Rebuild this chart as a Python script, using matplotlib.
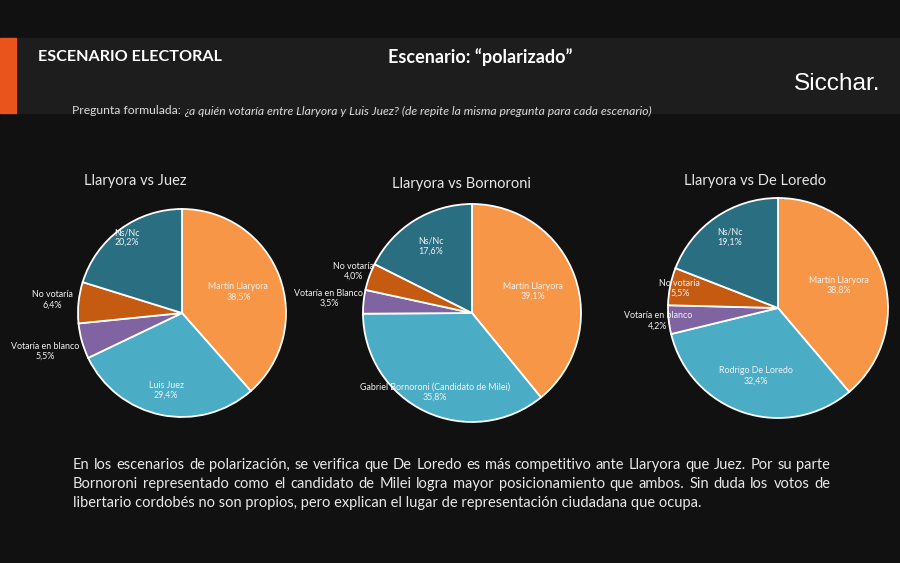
import matplotlib

matplotlib.use("Agg")
import matplotlib.pyplot as plt
import numpy as np
from matplotlib.patches import Rectangle

# --- data -------------------------------------------------------------
titles = ["Llaryora vs Juez", "Llaryora vs Bornoroni", "Llaryora vs De Loredo"]
labels_juez = ["Martín Llaryora", "Luis Juez", "Votaría en blanco", "No votaría", "Ns/Nc"]
values_juez = [38.5, 29.4, 5.5, 6.4, 20.2]
labels_bornoroni = ["Martín Llaryora", "Gabriel Bornoroni (Candidato de Milei)",
                    "Votaría en Blanco", "No votaría", "Ns/Nc"]
values_bornoroni = [39.1, 35.8, 3.5, 4.0, 17.6]
labels_deloredo = ["Martín Llaryora", "Rodrigo De Loredo", "Votaría en blanco", "No votaría", "Ns/Nc"]
values_deloredo = [38.8, 32.4, 4.2, 5.5, 19.1]

question = "¿a quién votaría entre Llaryora y Luis Juez? (de repite la misma pregunta para cada escenario)"
body_lines = [
    "En los escenarios de polarización, se verifica que De Loredo es más competitivo ante Llaryora que Juez. Por su parte",
    "Bornoroni representado como el candidato de Milei logra mayor posicionamiento que ambos. Sin duda los votos de",
    "libertario cordobés no son propios, pero explican el lugar de representación ciudadana que ocupa.",
]

# --- style ------------------------------------------------------------
W, H = 900, 563
BG = "#111111"
BAND = "#1d1d1d"
ACCENT = "#e8541c"
colors = ["#f79646", "#4bacc6", "#8064a2", "#c55a11", "#2a6e82"]
FONT = "Lato"

# pie centre / radius in pixels (y measured from top), label distances per slice
pies = [
    dict(cx=182, cy=313, r=104, title_x=135, title_y=181,
         dist=[0.58, 0.76, 1.37, 1.25, 0.9]),
    dict(cx=472, cy=313, r=109, title_x=462, title_y=184,
         dist=[0.59, 0.8, 1.32, 1.15, 0.72]),
    dict(cx=778, cy=308, r=110, title_x=755, title_y=181,
         dist=[0.59, 0.65, 1.1, 0.91, 0.78]),
]
series = [(labels_juez, values_juez), (labels_bornoroni, values_bornoroni),
          (labels_deloredo, values_deloredo)]

fig = plt.figure(figsize=(W / 100, H / 100), dpi=100, facecolor=BG)
ax = fig.add_axes([0, 0, 1, 1])
ax.set_xlim(0, W)
ax.set_ylim(0, H)
renderer = fig.canvas.get_renderer()


def py(y):
    return H - y


def fit_size(text, width, **kw):
    """Font size that makes text about `width` pixels wide."""
    t = ax.text(0, 0, text, fontsize=10, **kw)
    w = t.get_window_extent(renderer).width
    t.remove()
    return 10 * width / w


# header band and accent bar
ax.add_patch(Rectangle((17, py(113)), W - 17, 75, color=BAND, zorder=0))
ax.add_patch(Rectangle((0, py(113)), 16, 75, color=ACCENT, zorder=1))

ax.text(38, py(57), "ESCENARIO ELECTORAL", color="white", fontsize=11.6,
        fontweight="bold", family=FONT, va="center", ha="left")
ax.text(388, py(57), "Escenario: \u201cpolarizado\u201d", color="white", fontsize=13,
        fontweight="bold", family=FONT, va="center", ha="left")
ax.text(880, py(84), "Sicchar.", color="white", fontsize=17.6, family="Liberation Sans",
        va="center", ha="right")

qsize = fit_size("Pregunta formulada: " + question, 608, family=FONT)
q1 = ax.text(72, py(111), "Pregunta formulada: ", color="#d9d9d9", fontsize=qsize,
             family=FONT, va="center", ha="left")
bb = q1.get_window_extent(renderer)
qx = ax.transData.inverted().transform((bb.x1, 0))[0]
ax.text(qx, py(111), question, color="#d9d9d9", fontsize=qsize, family=FONT,
        style="italic", va="center", ha="left")

# pies
for (labels, values), spec, title in zip(series, pies, titles):
    cx, cy, r = spec["cx"], py(spec["cy"]), spec["r"]
    wedges, _ = ax.pie(values, colors=colors, startangle=90, counterclock=False,
                       center=(cx, cy), radius=r, frame=True,
                       wedgeprops=dict(edgecolor="white", linewidth=1.3))
    for w, lab, val, d in zip(wedges, labels, values, spec["dist"]):
        ang = np.deg2rad((w.theta1 + w.theta2) / 2)
        x = cx + d * r * np.cos(ang)
        y = cy + d * r * np.sin(ang)
        txt = f"{lab}\n{val:.1f}%".replace(".", ",")
        ax.text(x, y, txt, color="#f2f2f2", fontsize=6.4, family=FONT,
                ha="center", va="center", linespacing=1.15)
    ax.text(spec["title_x"], py(spec["title_y"]), title, color="#e6e6e6",
            fontsize=10.5, family=FONT, ha="center", va="center")

ax.set_xlim(0, W)
ax.set_ylim(0, H)
ax.set_aspect("auto")
ax.axis("off")

# justified body text
x0, x1 = 73, 830
line_y = [465, 484, 503]
bsize = fit_size(body_lines[0], (x1 - x0) * 0.985, family=FONT)
for i, (line, yy) in enumerate(zip(body_lines, line_y)):
    words = line.split(" ")
    if i == len(body_lines) - 1:
        ax.text(x0, py(yy), line, color="#e8e8e8", fontsize=bsize, family=FONT,
                va="center", ha="left")
        continue
    items = [ax.text(0, py(yy), wd, color="#e8e8e8", fontsize=bsize, family=FONT,
                     va="center", ha="left") for wd in words]
    widths = [t.get_window_extent(renderer).width for t in items]
    gap = (x1 - x0 - sum(widths)) / (len(words) - 1)
    xpos = x0
    for t, wdt in zip(items, widths):
        t.set_x(xpos)
        xpos += wdt + gap

fig.savefig("out.png", dpi=100, facecolor=BG)
